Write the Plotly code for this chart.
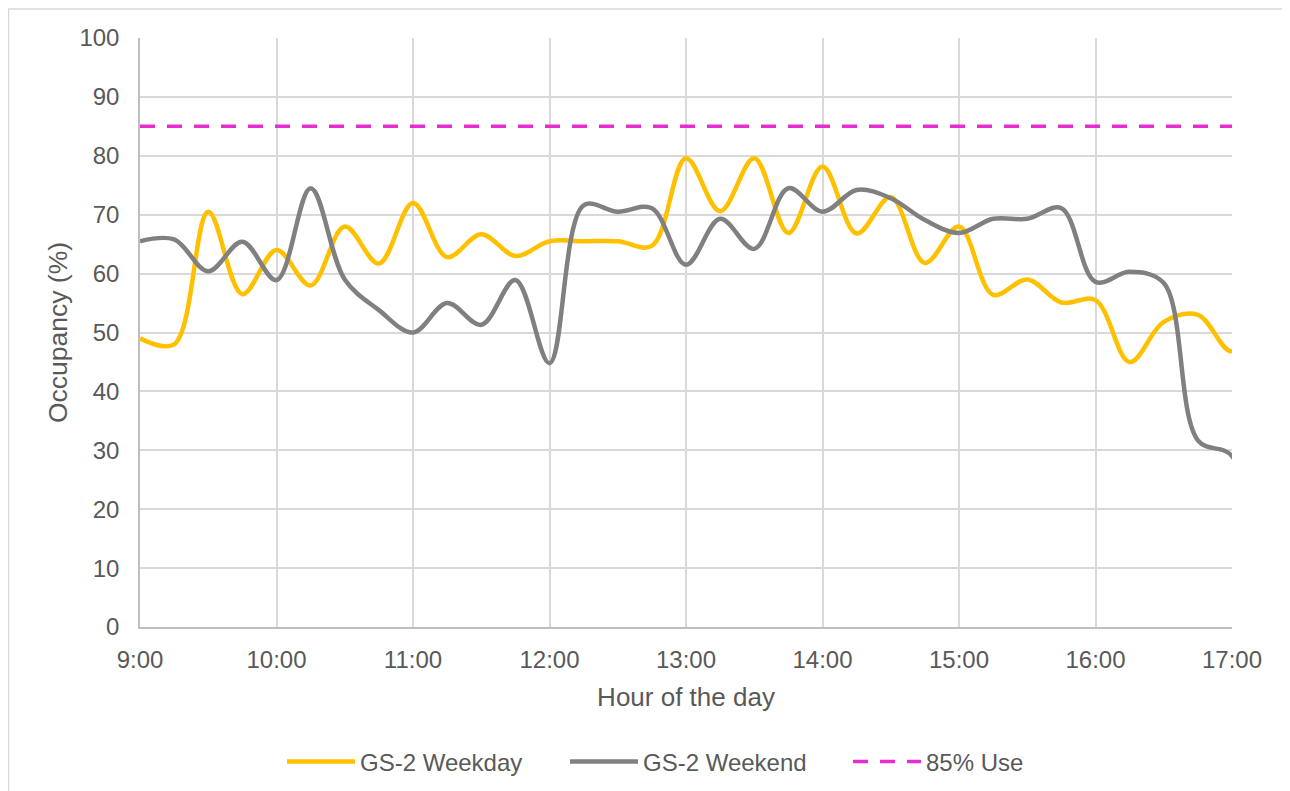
import plotly.graph_objects as go

# ---- data ----
time_labels = ["9:00", "9:15", "9:30", "9:45", "10:00", "10:15", "10:30", "10:45",
               "11:00", "11:15", "11:30", "11:45", "12:00", "12:15", "12:30", "12:45",
               "13:00", "13:15", "13:30", "13:45", "14:00", "14:15", "14:30", "14:45",
               "15:00", "15:15", "15:30", "15:45", "16:00", "16:15", "16:30", "16:45",
               "17:00", "17:15"]
weekday = [49, 48, 70.5, 56.5, 64, 58, 68, 61.7, 72, 62.8, 66.7, 63, 65.5, 65.5, 65.5,
           64.7, 79.6, 70.6, 79.6, 66.9, 78.2, 66.8, 73, 61.8, 68, 56.4, 59, 55.1, 55.5,
           45, 51.8, 53, 46.8, 55]
weekend = [65.5, 65.8, 60.4, 65.4, 58.9, 74.5, 59, 53.8, 50, 55, 51.3, 58.9, 44.8, 71.6,
           70.5, 71.1, 61.5, 69.3, 64.2, 74.5, 70.5, 74.2, 72.8, 69.1, 66.9, 69.3, 69.3,
           71.1, 58.6, 60.3, 58.4, 31.7, 29, 5]
threshold = 85
threshold_label = "85% Use"
hour_ticks = ["9:00", "10:00", "11:00", "12:00", "13:00", "14:00", "15:00", "16:00", "17:00"]
y_ticks = [0, 10, 20, 30, 40, 50, 60, 70, 80, 90, 100]


def to_hours(s):
    h, m = s.split(":")
    return int(h) + int(m) / 60.0


x = [to_hours(t) for t in time_labels]
tick_x = [to_hours(t) for t in hour_ticks]

TXT = "#595959"
FONT = "Liberation Sans, Arial, sans-serif"

fig = go.Figure()
fig.add_trace(go.Scatter(x=x, y=weekday, mode="lines", name="GS-2 Weekday",
                         line=dict(color="#FFC000", width=4.5, shape="spline", smoothing=1)))
fig.add_trace(go.Scatter(x=x, y=weekend, mode="lines", name="GS-2 Weekend",
                         line=dict(color="#808080", width=4.5, shape="spline", smoothing=1)))
fig.add_trace(go.Scatter(x=[tick_x[0], tick_x[-1]], y=[threshold, threshold], mode="lines",
                         name=threshold_label,
                         line=dict(color="#E62ED0", width=3.5, dash="15px,12px")))

OFF = 8  # page body margin
W, H = 1290 - OFF, 791 - OFF
L, R, T, B = 140 - OFF, 1232 - OFF, 38 - OFF, 627 - OFF
pw, ph = R - L, B - T


def px_x(p):
    return (p - OFF - L) / pw


def px_y(p):
    return (B - (p - OFF)) / ph


fig.update_layout(
    width=W, height=H,
    margin=dict(l=L, r=W - R, t=T, b=H - B, autoexpand=False),
    paper_bgcolor="white", plot_bgcolor="white",
    font=dict(family=FONT, color=TXT, size=24),
    showlegend=True,
    legend=dict(orientation="h", xref="container", yref="container",
                x=(282 - OFF) / W, xanchor="left", y=1 - (762 - OFF) / H, yanchor="middle",
                font=dict(size=24, color=TXT, family=FONT), itemwidth=68,
                bgcolor="rgba(0,0,0,0)", entrywidth=200, entrywidthmode="pixels"),
    shapes=[dict(type="rect", xref="paper", yref="paper",
                 x0=px_x(8.5), x1=px_x(1310), y0=px_y(820), y1=px_y(9),
                 line=dict(color="#d9d9d9", width=1.5), layer="below")],
)
fig.update_xaxes(range=[9, 17], tickvals=tick_x, ticktext=hour_ticks, automargin=False,
                 showgrid=True, gridcolor="#d9d9d9", gridwidth=1.5,
                 showline=True, linecolor="#bfbfbf", linewidth=1.5, zeroline=False,
                 ticks="", ticklabelstandoff=10,
                 tickfont=dict(size=24, color=TXT, family=FONT),
                 title=dict(text="Hour of the day", font=dict(size=26, color=TXT, family=FONT),
                            standoff=16))
fig.update_yaxes(range=[0, 100], tickvals=y_ticks, automargin=False,
                 showgrid=True, gridcolor="#d9d9d9", gridwidth=1.5,
                 showline=True, linecolor="#bfbfbf", linewidth=1.5, zeroline=False,
                 ticks="", ticklabelstandoff=14,
                 tickfont=dict(size=24, color=TXT, family=FONT),
                 title=dict(text="Occupancy (%)", font=dict(size=26.5, color=TXT, family=FONT),
                            standoff=4))

fig.write_html("out.html")
